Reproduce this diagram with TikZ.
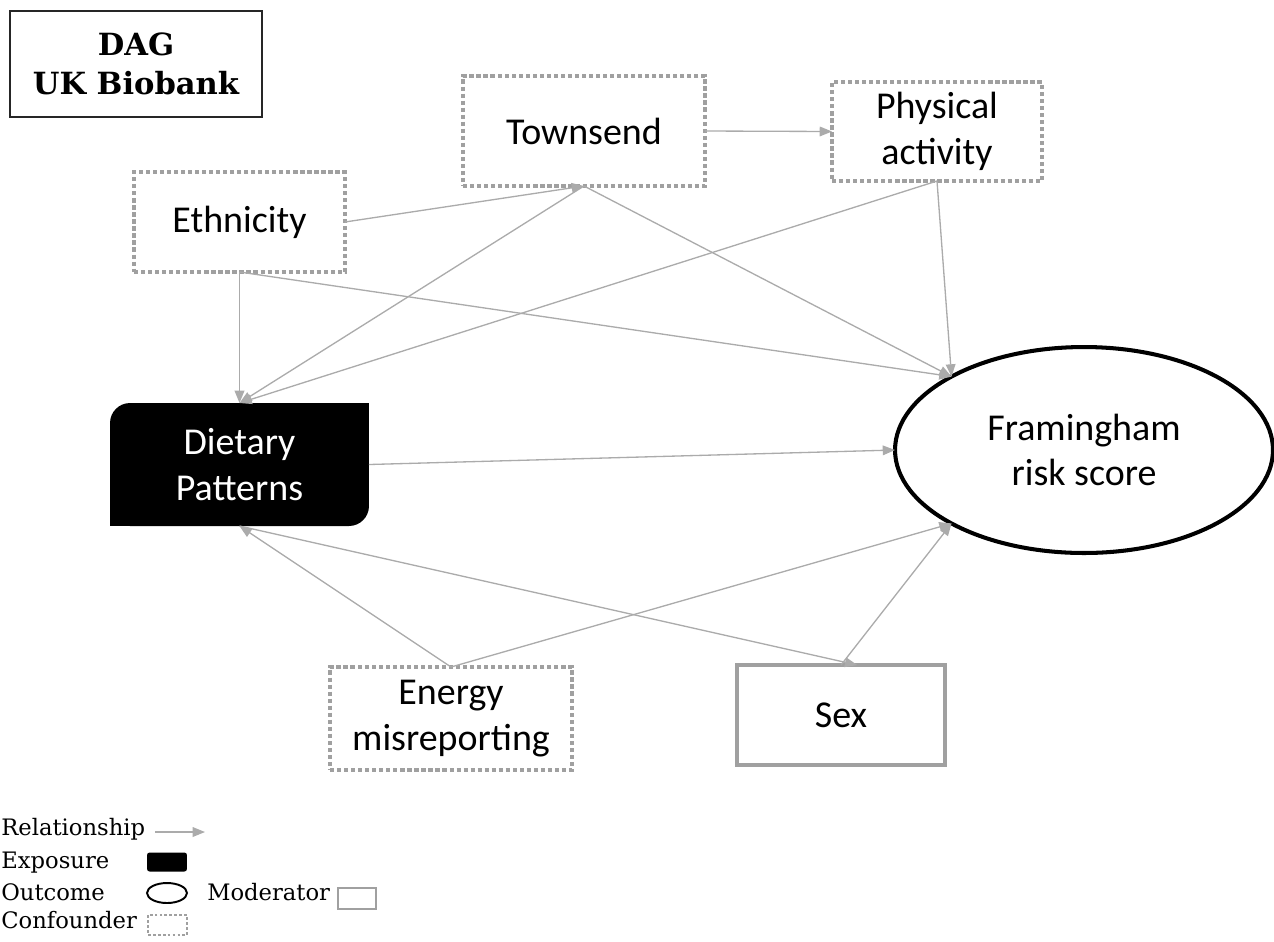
\documentclass[tikz,border=0pt]{standalone}
\usepackage{fontspec}
\setmainfont{DejaVu Serif}
\newfontfamily\lblfont{Carlito}
\usetikzlibrary{shapes.geometric,arrows.meta}
\definecolor{linegray}{HTML}{ABABAB}
\definecolor{boxgray}{HTML}{A0A0A0}
\newcommand{\rel}[2]{\draw[rel] (#1) -- (#2);}
\tikzset{
  lbl/.style={font=\lblfont\fontsize{21.6}{25.8}\selectfont, align=center, inner sep=0pt, outer sep=0pt},
  confounder/.style={lbl, draw=boxgray, line width=2pt, dash pattern=on 2.4pt off 1.6pt},
  moderator/.style={lbl, draw=boxgray, line width=1.8pt},
  exposure/.style={lbl, fill=black, text=white, rounded corners=0.4cm},
  outcome/.style={lbl, ellipse, draw=black, line width=2.3pt},
  rel/.style={draw=linegray, line width=0.75pt, -{Triangle[length=7pt,width=5.5pt]}},
  legtext/.style={font=\fontsize{12.9}{15}\selectfont, anchor=base west, inner sep=0pt}
}

\begin{document}
\begin{tikzpicture}[x=0.02cm, y=-0.02cm]
    \useasboundingbox (0,0) rectangle (1274,941);

    \node[draw=black!85, line width=0.6pt, minimum width=5.04cm, minimum height=2.12cm, align=center, inner sep=0pt,
          font=\bfseries\fontsize{17.4}{22.4}\selectfont] (title) at (136,64) {DAG\\UK Biobank};

    \node[confounder, minimum width=4.22cm, minimum height=2.0cm] (ethn) at (239.5,222) {Ethnicity};
    \node[confounder, minimum width=4.84cm, minimum height=2.2cm] (town) at (584,131) {Townsend};
    \node[confounder, minimum width=4.2cm, minimum height=1.98cm] (phys) at (937,131.5) {Physical\\activity};
    \node[exposure, minimum width=5.18cm, minimum height=2.46cm] (diet) at (239.5,464.5) {Dietary\\Patterns};
    \fill[black] (diet.north east) rectangle ++(-20,20);
    \fill[black] (diet.south west) rectangle ++(20,-20);
    \node[outcome, minimum width=7.56cm, minimum height=4.12cm] (fram) at (1084,450) {Framingham\\risk score};
    \node[confounder, minimum width=4.84cm, minimum height=2.06cm] (ener) at (451,718.5) {Energy\\misreporting};
    \node[moderator, minimum width=4.16cm, minimum height=2.0cm] (sex) at (841,715) {Sex};

    \rel{ethn.east}{town.south}
    \rel{ethn.south}{diet.north}
    \rel{ethn.south}{fram.151}
    \rel{town.south}{diet.north}
    \rel{town.south}{fram.151}
    \rel{town.east}{phys.west}
    \rel{phys.south}{diet.north}
    \rel{phys.south}{fram.151}
    \rel{diet.east}{fram.west}
    \rel{diet.south}{sex.72}
    \rel{ener.north}{diet.south}
    \rel{ener.north}{fram.209}
    \rel{sex.north}{fram.209}

    \node[legtext] (lrel) at (1,835) {Relationship};
    \coordinate (relA) at (155,832);
    \coordinate (relB) at (205,832);
    \rel{relA}{relB}
    \node[legtext] (lexp) at (1,868) {Exposure};
    \node[fill=black, rounded corners=1.5pt, minimum width=0.8cm, minimum height=0.38cm, inner sep=0pt] (kexp) at (167,862) {};
    \node[legtext] (lout) at (1,900) {Outcome};
    \node[ellipse, draw=black, line width=1.1pt, minimum width=0.8cm, minimum height=0.4cm, inner sep=0pt] (kout) at (167,893) {};
    \node[legtext] (lmod) at (207,900) {Moderator};
    \node[draw=boxgray, line width=1.1pt, minimum width=0.76cm, minimum height=0.42cm, inner sep=0pt] (kmod) at (357,898.5) {};
    \node[legtext] (lcon) at (1,928) {Confounder};
    \node[draw=boxgray, line width=1.3pt, dash pattern=on 1.6pt off 1.2pt, minimum width=0.78cm, minimum height=0.4cm, inner sep=0pt] (kcon) at (167.5,925) {};
\end{tikzpicture}
\end{document}
